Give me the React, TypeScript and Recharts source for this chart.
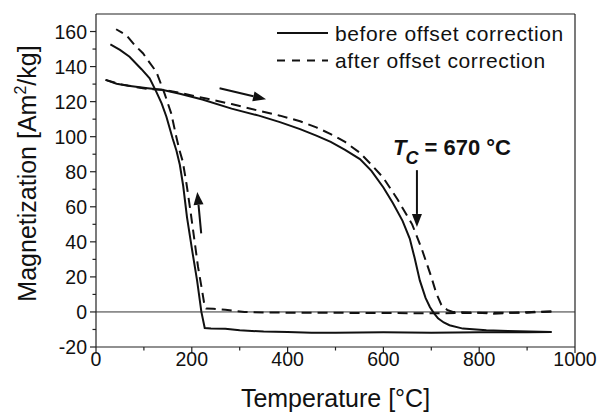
import { LineChart, Line, XAxis, YAxis, ReferenceLine, ReferenceDot, Legend } from 'recharts';

const FONT = '"Liberation Sans", Arial, sans-serif';
const INK = '#111';

// solid = before offset correction, dashed = after; each run has a heating and a cooling branch
const beforeHeatT = [20, 43, 67, 108, 140, 175, 222, 283, 340, 384, 426, 460, 490, 520, 551, 575, 600, 620, 640, 655, 665, 676, 688, 697, 705, 714, 726, 738, 766, 815, 860, 951];
const beforeHeatM = [132.4, 130.2, 129, 127.7, 126.6, 124.5, 121.2, 116, 112, 108.3, 104.3, 100.6, 97, 92.5, 87.2, 80.5, 71, 62, 52, 41.9, 31, 18, 8, 2.8, -0.5, -3.6, -6, -7.6, -9.5, -10.5, -10.9, -11.4];

const beforeCoolT = [951, 900, 800, 700, 600, 500, 450, 400, 350, 300, 270, 240, 227, 220, 211, 202, 190, 182, 175, 168, 160, 147, 137, 126, 112, 95, 70, 50, 30];
const beforeCoolM = [-11.4, -11.6, -11.6, -11.8, -11.6, -11.8, -11.8, -11.5, -11.2, -10.5, -9.6, -9.5, -9.2, 0, 18, 33, 54, 72, 84, 92, 99, 111.4, 119, 125.6, 133.3, 138.5, 145.6, 149.5, 152.7];

const afterHeatT = [20, 49, 105, 140, 175, 230, 283, 340, 384, 426, 460, 490, 520, 550, 575, 600, 630, 660, 680, 700, 710, 721, 733, 745, 780, 830, 870, 910, 951];
const afterHeatM = [132.4, 130, 127.3, 126.8, 125, 121.8, 118.6, 114.8, 112, 108.8, 105.3, 101.5, 97, 91, 84, 76.5, 64, 50, 36, 20, 11, 4, 1.2, 0, -0.3, -1, -0.4, 0, 0.3];

const afterCoolT = [951, 900, 800, 700, 600, 500, 400, 350, 310, 270, 245, 230, 227, 221, 213, 205, 197, 189, 181, 174.5, 167.6, 157, 143, 126, 110, 98, 80, 63, 42];
const afterCoolM = [0.3, -0.5, -0.5, -0.8, -0.6, -0.5, -0.4, -0.3, 0, 1.2, 1.8, 1.9, 3, 13, 25.7, 42, 58, 73, 86, 92, 100, 113.3, 124.7, 137, 143, 147.6, 152.5, 158, 161.3];

const xTicks = [0, 100, 200, 300, 400, 500, 600, 700, 800, 900, 1000];
const yTicks = [-20, -10, 0, 10, 20, 30, 40, 50, 60, 70, 80, 90, 100, 110, 120, 130, 140, 150, 160];

// arrows (data coordinates, tail -> head)
const heatArrow = [{ x: 258, y: 127.6 }, { x: 355, y: 121.3 }];
const coolArrow = [{ x: 219.6, y: 44.8 }, { x: 211.5, y: 68.5 }];
const tcArrow = [{ x: 670, y: 80.9 }, { x: 670, y: 48.5 }];

const zip = (t: number[], m: number[]) => t.map((v, i) => ({ t: v, m: m[i] }));

function YTick({ x, y, payload }: any) {
  const major = payload.value % 20 === 0;
  return (
    <g>
      <line x1={x} x2={x - (major ? 6 : 3.5)} y1={y} y2={y} stroke="#222" strokeWidth={1.2} />
      {major && (
        <text x={x - 9} y={y} dy="0.36em" textAnchor="end" fontSize={19.5} fontFamily={FONT} fill={INK}>
          {payload.value}
        </text>
      )}
    </g>
  );
}

function XTick({ x, y, payload }: any) {
  const major = payload.value % 200 === 0;
  return (
    <g>
      <line x1={x} x2={x} y1={y} y2={y + (major ? 6 : 3.5)} stroke="#222" strokeWidth={1.2} />
      {major && (
        <text x={x} y={y + 18.5} textAnchor="middle" fontSize={19.5} fontFamily={FONT} fill={INK}>
          {payload.value}
        </text>
      )}
    </g>
  );
}

function Arrow({ x1, y1, x2, y2 }: any) {
  const len = Math.hypot(x2 - x1, y2 - y1);
  const ux = (x2 - x1) / len;
  const uy = (y2 - y1) / len;
  const bx = x2 - ux * 13;
  const by = y2 - uy * 13;
  return (
    <g>
      <line x1={x1} y1={y1} x2={bx} y2={by} stroke={INK} strokeWidth={2} />
      <polygon points={`${x2},${y2} ${bx - uy * 5},${by + ux * 5} ${bx + uy * 5},${by - ux * 5}`} fill={INK} />
    </g>
  );
}

function TcLabel({ cx, cy }: any) {
  return (
    <text x={cx} y={cy} fontFamily={FONT} fontWeight="bold" fill={INK} fontSize={22}>
      <tspan fontStyle="italic">T</tspan>
      <tspan fontStyle="italic" fontSize={18} dy={9} dx={-1}>C</tspan>
      <tspan dy={-9}> = 670 °C</tspan>
    </text>
  );
}

function LegendBox() {
  return (
    <svg width={300} height={60} style={{ display: 'block' }}>
      <line x1={1} x2={52} y1={13} y2={13} stroke={INK} strokeWidth={2} />
      <text x={59} y={20.5} fontSize={21} letterSpacing={0.6} fontFamily={FONT} fill={INK}>before offset correction</text>
      <line x1={1} x2={52} y1={40.5} y2={40.5} stroke={INK} strokeWidth={2} strokeDasharray="8 7" />
      <text x={59} y={48} fontSize={21} letterSpacing={0.6} fontFamily={FONT} fill={INK}>after offset correction</text>
    </svg>
  );
}

export default function App() {
  return (
    <div style={{ position: 'absolute', left: 0, top: 0, background: '#fff' }}>
      <LineChart width={610} height={417} margin={{ top: 14, right: 35, left: 0, bottom: 0 }}>
        <XAxis
          type="number"
          dataKey="t"
          domain={[0, 1000]}
          ticks={xTicks}
          interval={0}
          tickSize={0}
          tickMargin={0}
          tickLine={false}
          tick={(p: any) => <XTick {...p} />}
          height={70}
          axisLine={{ stroke: '#222', strokeWidth: 1.2 }}
          label={{
            content: (p: any) => {
              const vb = p.viewBox || { x: 96, y: 347, width: 479 };
              return (
                <text x={vb.x + vb.width / 2} y={vb.y + 60} textAnchor="middle" fontSize={25} fontFamily={FONT} fill={INK}>
                  Temperature [°C]
                </text>
              );
            },
          }}
        />
        <YAxis
          type="number"
          domain={[-20, 170]}
          ticks={yTicks}
          interval={0}
          width={96}
          tickSize={0}
          tickMargin={0}
          tickLine={false}
          tick={(p: any) => <YTick {...p} />}
          axisLine={{ stroke: '#222', strokeWidth: 1.2 }}
          label={{
            content: (p: any) => {
              const vb = p.viewBox || { x: 0, y: 14, height: 333 };
              const cx = vb.x + 36;
              const cy = vb.y + vb.height / 2 - 7;
              return (
                <text x={cx} y={cy} transform={`rotate(-90 ${cx} ${cy})`} textAnchor="middle" fontSize={25} fontFamily={FONT} fill={INK}>
                  Magnetization [Am<tspan fontSize={16} dy={-10}>2</tspan><tspan dy={10}>/kg]</tspan>
                </text>
              );
            },
          }}
        />
        <ReferenceLine y={170} stroke="#222" strokeWidth={1.2} />
        <ReferenceLine x={1000} stroke="#222" strokeWidth={1.2} />
        <ReferenceLine y={0} stroke="#333" strokeWidth={1} />

        <Line data={zip(beforeHeatT, beforeHeatM)} dataKey="m" type="linear" stroke={INK} strokeWidth={2} dot={false} isAnimationActive={false} />
        <Line data={zip(beforeCoolT, beforeCoolM)} dataKey="m" type="linear" stroke={INK} strokeWidth={2} dot={false} isAnimationActive={false} />
        <Line data={zip(afterHeatT, afterHeatM)} dataKey="m" type="linear" stroke={INK} strokeWidth={2} strokeDasharray="10 6" dot={false} isAnimationActive={false} />
        <Line data={zip(afterCoolT, afterCoolM)} dataKey="m" type="linear" stroke={INK} strokeWidth={2} strokeDasharray="10 6" dot={false} isAnimationActive={false} />

        <ReferenceLine segment={heatArrow} shape={(p: any) => <Arrow {...p} />} />
        <ReferenceLine segment={coolArrow} shape={(p: any) => <Arrow {...p} />} />
        <ReferenceLine segment={tcArrow} shape={(p: any) => <Arrow {...p} />} />
        <ReferenceDot x={620} y={89.5} r={0} shape={(p: any) => <TcLabel {...p} />} />

        <Legend
          layout="horizontal"
          verticalAlign="middle"
          align="center"
          content={() => <LegendBox />}
          wrapperStyle={{ left: 276, top: 20, width: 300, height: 60 }}
        />
      </LineChart>
    </div>
  );
}
